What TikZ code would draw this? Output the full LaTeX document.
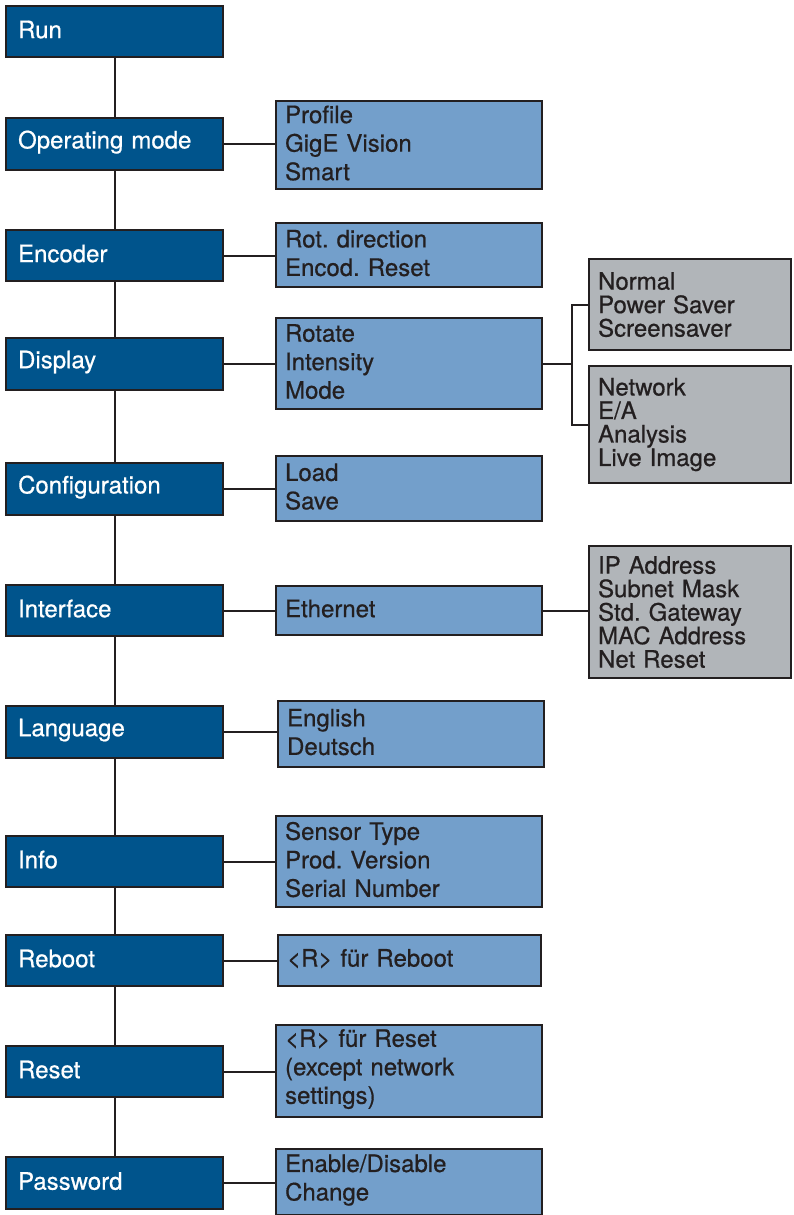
\documentclass[tikz,border=0pt]{standalone}
\usepackage{fontspec}
\setmainfont{TeX Gyre Heros}[FakeBold=0.6]
\frenchspacing
\definecolor{dblue}{HTML}{00548C}
\definecolor{lblue}{HTML}{739FCB}
\definecolor{lgray}{HTML}{B1B5B9}
\definecolor{ink}{HTML}{231F20}
\tikzset{
  lift/.style={execute at end node={\par\vspace{#1}}},
  mainbox/.style={draw=ink, line width=2.2pt, fill=dblue, text=white, align=left, inner xsep=12pt, inner ysep=0pt, font=\fontsize{24}{28.5}\selectfont, lift=4pt},
  subbox/.style={draw=ink, line width=2.2pt, fill=lblue, text=ink, align=left, inner xsep=9pt, inner ysep=0pt, font=\fontsize{24}{28.5}\selectfont, lift=4pt},
  detbox/.style={draw=ink, line width=2.2pt, fill=lgray, text=ink, align=left, inner xsep=9pt, inner ysep=0pt, font=\fontsize{24}{23.5}\selectfont},
  conn/.style={draw=ink, line width=2pt}
}
% \bx{name}{x1}{y1}{x2}{y2}{style}{xsep}{text}
\newcommand\bx[8]{%
  \pgfmathsetmacro\bxw{#4-#2}%
  \pgfmathsetmacro\bxh{#5-#3}%
  \pgfmathsetmacro\bxt{#4-#2-2*#7}%
  \node[#6, anchor=north west, minimum width=\bxw pt, minimum height=\bxh pt, text width=\bxt pt] (#1) at (#2,#3) {#8};%
}
\begin{document}
\begin{tikzpicture}[x=1pt,y=-1pt]
\useasboundingbox (0,0) rectangle (793,1215);
% left column
\bx{run}{5}{5}{222}{56}{mainbox}{12}{Run}
\bx{op}{5}{117}{222}{169}{mainbox}{12}{Operating mode}
\bx{enc}{5}{229}{222}{280}{mainbox}{12}{Encoder}
\bx{disp}{5}{337}{222}{389}{mainbox}{12}{Display}
\bx{conf}{5}{462}{222}{514}{mainbox}{12}{Configuration}
\bx{intf}{5}{584}{222}{635}{mainbox}{12}{Interface}
\bx{lang}{5}{705}{222}{757}{mainbox}{12}{Language}
\bx{info}{5}{835}{222}{886}{mainbox}{12}{Info}
\bx{reb}{5}{934}{222}{985}{mainbox}{12}{Reboot}
\bx{res}{5}{1045}{222}{1096}{mainbox}{12}{Reset}
\bx{pw}{5}{1156}{222}{1208}{mainbox}{12}{Password}
% middle column
\bx{m1}{275}{100}{541}{188}{subbox}{9}{Profile\\GigE Vision\\Smart}
\bx{m2}{275}{222}{541}{286}{subbox}{9}{Rot. direction\\Encod. Reset}
\bx{m3}{275}{317}{541}{408}{subbox}{9}{Rotate\\Intensity\\Mode}
\bx{m4}{275}{455}{541}{520}{subbox}{9}{Load\\Save}
\bx{m5}{275}{585}{541}{634}{subbox}{9}{Ethernet}
\bx{m6}{277}{700}{543}{766}{subbox}{9}{English\\Deutsch}
\bx{m7}{275}{815}{541}{906}{subbox}{9}{Sensor Type\\Prod. Version\\Serial Number}
\bx{m8}{277}{934}{540}{985}{subbox}{9}{<R> für Reboot}
\bx{m9}{275}{1024}{541}{1116}{subbox}{9}{<R> für Reset\\(except network\\settings)}
\bx{m10}{275}{1148}{541}{1214}{subbox}{9}{Enable/Disable\\Change}
% right column
\bx{g1}{588}{258}{790}{349}{detbox}{9}{Normal\\Power Saver\\Screensaver}
\bx{g2}{588}{365}{790}{482}{detbox}{9}{Network\\E/A\\Analysis\\Live Image}
\bx{g3}{588}{545}{790}{677}{detbox}{9}{IP Address\\Subnet Mask\\Std. Gateway\\MAC Address\\Net Reset}
% connectors
\foreach \a/\b in {run/op,op/enc,enc/disp,disp/conf,conf/intf,intf/lang,lang/info,info/reb,reb/res,res/pw}
  \draw[conn] (\a.south) -- (\b.north);
\foreach \a/\b in {op/m1,enc/m2,disp/m3,conf/m4,intf/m5,lang/m6,info/m7,reb/m8,res/m9,pw/m10}
  \draw[conn] (\a.east) -- (\a.east -| \b.west);
\draw[conn] (m3.east) -- ++(29,0) coordinate (j);
\draw[conn] (g1.west) -| (j);
\draw[conn] (g2.west) -| (j);
\draw[conn] (m5.east) -- (m5.east -| g3.west);
\end{tikzpicture}
\end{document}
